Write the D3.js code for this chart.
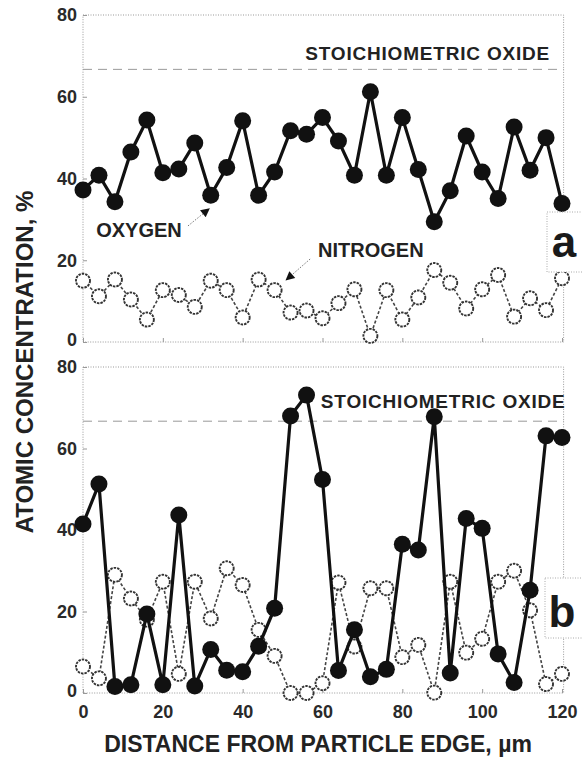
<!DOCTYPE html>
<html>
<head>
<meta charset="utf-8">
<script src="https://cdn.jsdelivr.net/npm/d3@7"></script>
<style>
body { margin: 0; background: #fff; }
svg { display: block; font-family: "Liberation Sans", Arial, sans-serif; }
</style>
</head>
<body>
<svg id="chart" width="582" height="758"></svg>
<script>
// distance from particle edge, um
const distance = [0, 4, 8, 12, 16, 20, 24, 28, 32, 36, 40, 44, 48, 52, 56, 60,
	64, 68, 72, 76, 80, 84, 88, 92, 96, 100, 104, 108, 112, 116, 120];

// panel a
const oxygenA = [37.2, 40.8, 34.3, 46.5, 54.3, 41.4, 42.3, 48.7, 35.9, 42.7, 54.1,
	35.9, 41.6, 51.7, 50.8, 54.9, 49.2, 40.8, 61.2, 40.8, 54.9, 42.2, 29.4, 37.0,
	50.4, 41.6, 35.1, 52.6, 42.0, 50.0, 33.9];
const nitrogenA = [15.0, 11.2, 15.3, 10.4, 5.5, 12.7, 11.5, 8.6, 15.0, 12.7, 6.0,
	15.3, 12.7, 7.2, 7.7, 5.8, 9.5, 12.9, 1.5, 12.7, 5.5, 10.9, 17.6, 14.5, 8.2,
	12.9, 16.4, 6.2, 10.7, 7.8, 15.6];

// panel b
const oxygenB = [41.5, 51.3, 1.6, 2.0, 19.4, 2.0, 43.7, 1.7, 10.7, 5.6, 5.2, 11.5,
	20.8, 68.0, 73.1, 52.4, 5.5, 15.5, 4.0, 5.8, 36.5, 35.1, 67.8, 4.9, 42.8, 40.4,
	9.6, 2.6, 25.2, 63.1, 62.7];
const nitrogenB = [6.5, 3.6, 29.0, 23.2, 18.0, 27.3, 4.7, 27.3, 18.3, 30.6, 26.5,
	15.5, 9.1, 0.0, 0.0, 2.4, 27.1, 11.4, 25.7, 25.7, 8.8, 11.8, 0.1, 27.3, 9.9,
	13.3, 27.3, 30.0, 20.3, 2.2, 4.7];

const yTicks = [0, 20, 40, 60, 80];
const xTicks = [0, 20, 40, 60, 80, 100, 120];
const stoichiometric = 66.7;

const svg = d3.select('#chart');

const x = d3.scaleLinear().domain([0, 120]).range([83, 562]);
const yA = d3.scaleLinear().domain([0, 80]).range([342, 15]);
const yB = d3.scaleLinear().domain([0, 80]).range([693, 367]);

svg.append('defs').append('marker')
	.attr('id', 'head')
	.attr('viewBox', '0 0 10 10')
	.attr('refX', 9).attr('refY', 5)
	.attr('markerWidth', 12).attr('markerHeight', 9)
	.attr('markerUnits', 'userSpaceOnUse')
	.attr('orient', 'auto')
	.append('path')
	.attr('d', 'M0,0 L10,5 L0,10 Z')
	.attr('fill', '#111');

function drawPanel(y, oxygen, nitrogen, letter, box) {
	let g = svg.append('g');

	// frame
	g.append('rect')
		.attr('x', x(0)).attr('y', y(80))
		.attr('width', x(120.4) - x(0)).attr('height', y(0) - y(80))
		.attr('fill', 'none')
		.attr('stroke', '#999')
		.attr('stroke-dasharray', '1,1.5');

	// stoichiometric oxide
	g.append('line')
		.attr('x1', x(0)).attr('x2', x(120.4))
		.attr('y1', y(stoichiometric)).attr('y2', y(stoichiometric))
		.attr('stroke', '#999')
		.attr('stroke-dasharray', '9,6');

	let yAxis = g.append('g')
		.attr('transform', 'translate(' + x(0) + ',0)')
		.call(d3.axisLeft(y).tickValues(yTicks).tickSize(-4).tickPadding(6));
	let xAxis = g.append('g')
		.attr('transform', 'translate(0,' + y(0) + ')')
		.call(d3.axisBottom(x).tickValues(xTicks).tickSize(-4).tickPadding(12));
	[yAxis, xAxis].forEach(function(a) {
		a.select('.domain').remove();
		a.selectAll('line').attr('stroke', '#999');
		a.selectAll('text')
			.attr('font-size', 18)
			.attr('font-weight', 'bold')
			.attr('fill', '#2a2a2a')
			.attr('font-family', '"Liberation Sans", Arial, sans-serif');
	});
	xAxis.selectAll('text').attr('display', letter == 'b' ? null : 'none');
	yAxis.selectAll('text').filter(d => d == 0).attr('dy', '0.2em');

	let line = d3.line()
		.x((d, i) => x(distance[i]))
		.y(d => y(d));

	g.append('path')
		.datum(nitrogen)
		.attr('d', line)
		.attr('fill', 'none')
		.attr('stroke', '#444')
		.attr('stroke-width', 1.6)
		.attr('stroke-dasharray', '3,2');
	g.selectAll('circle.n')
		.data(nitrogen)
		.enter()
		.append('circle')
		.attr('class', 'n')
		.attr('cx', (d, i) => x(distance[i]))
		.attr('cy', d => y(d))
		.attr('r', 7)
		.attr('fill', '#fff')
		.attr('stroke', '#333')
		.attr('stroke-width', 1.9)
		.attr('stroke-dasharray', '2.5,1');

	g.append('path')
		.datum(oxygen)
		.attr('d', line)
		.attr('fill', 'none')
		.attr('stroke', '#111')
		.attr('stroke-width', 3.2);
	g.selectAll('circle.o')
		.data(oxygen)
		.enter()
		.append('circle')
		.attr('class', 'o')
		.attr('cx', (d, i) => x(distance[i]))
		.attr('cy', d => y(d))
		.attr('r', 8.5)
		.attr('fill', '#111');

	// panel letter
	g.append('rect')
		.attr('x', box[0]).attr('y', box[1])
		.attr('width', box[2]).attr('height', box[3])
		.attr('fill', '#fff')
		.attr('stroke', '#aaa')
		.attr('stroke-dasharray', '1,1.5');
	g.append('text')
		.attr('x', box[0] + 17).attr('y', box[4])
		.attr('text-anchor', 'middle')
		.attr('font-size', 44)
		.attr('font-weight', 'bold')
		.attr('fill', '#1a1a1a')
		.text(letter);

	return g;
}

let gA = drawPanel(yA, oxygenA, nitrogenA, 'a', [547, 212, 40, 60, 257]);
let gB = drawPanel(yB, oxygenB, nitrogenB, 'b', [545, 578, 42, 60, 627]);

function label(g, text, px, py, size, anchor, spacing) {
	g.append('text')
		.attr('x', px).attr('y', py)
		.attr('text-anchor', anchor || 'start')
		.attr('font-size', size)
		.attr('font-weight', 'bold')
		.attr('letter-spacing', spacing || 0)
		.attr('fill', '#222')
		.text(text);
}

label(gA, 'STOICHIOMETRIC OXIDE', x(117), yA(69), 19, 'end', 0.8);
label(gB, 'STOICHIOMETRIC OXIDE', x(120.9), yB(70), 19, 'end', 0.8);
label(gA, 'OXYGEN', x(3.3), yA(25.7), 20);
label(gA, 'NITROGEN', x(58.9), yA(20.8), 20);

function arrow(g, x1, y1, x2, y2) {
	g.append('line')
		.attr('x1', x(x1)).attr('y1', yA(y1))
		.attr('x2', x(x2)).attr('y2', yA(y2))
		.attr('stroke', '#777')
		.attr('stroke-width', 1)
		.attr('stroke-dasharray', '1.5,1.5')
		.attr('marker-end', 'url(#head)');
}
arrow(gA, 26.3, 28.4, 31.6, 32.6);
arrow(gA, 56.9, 20.3, 50.9, 15.2);

// axis titles
svg.append('text')
	.attr('transform', 'translate(33,362) rotate(-90)')
	.attr('text-anchor', 'middle')
	.attr('font-size', 24)
	.attr('font-weight', 'bold')
	.attr('fill', '#222')
	.text('ATOMIC CONCENTRATION, %');

svg.append('text')
	.attr('x', 318).attr('y', 752)
	.attr('text-anchor', 'middle')
	.attr('font-size', 23)
	.attr('font-weight', 'bold')
	.attr('fill', '#222')
	.text('DISTANCE FROM PARTICLE EDGE, µm');
</script>
</body>
</html>
